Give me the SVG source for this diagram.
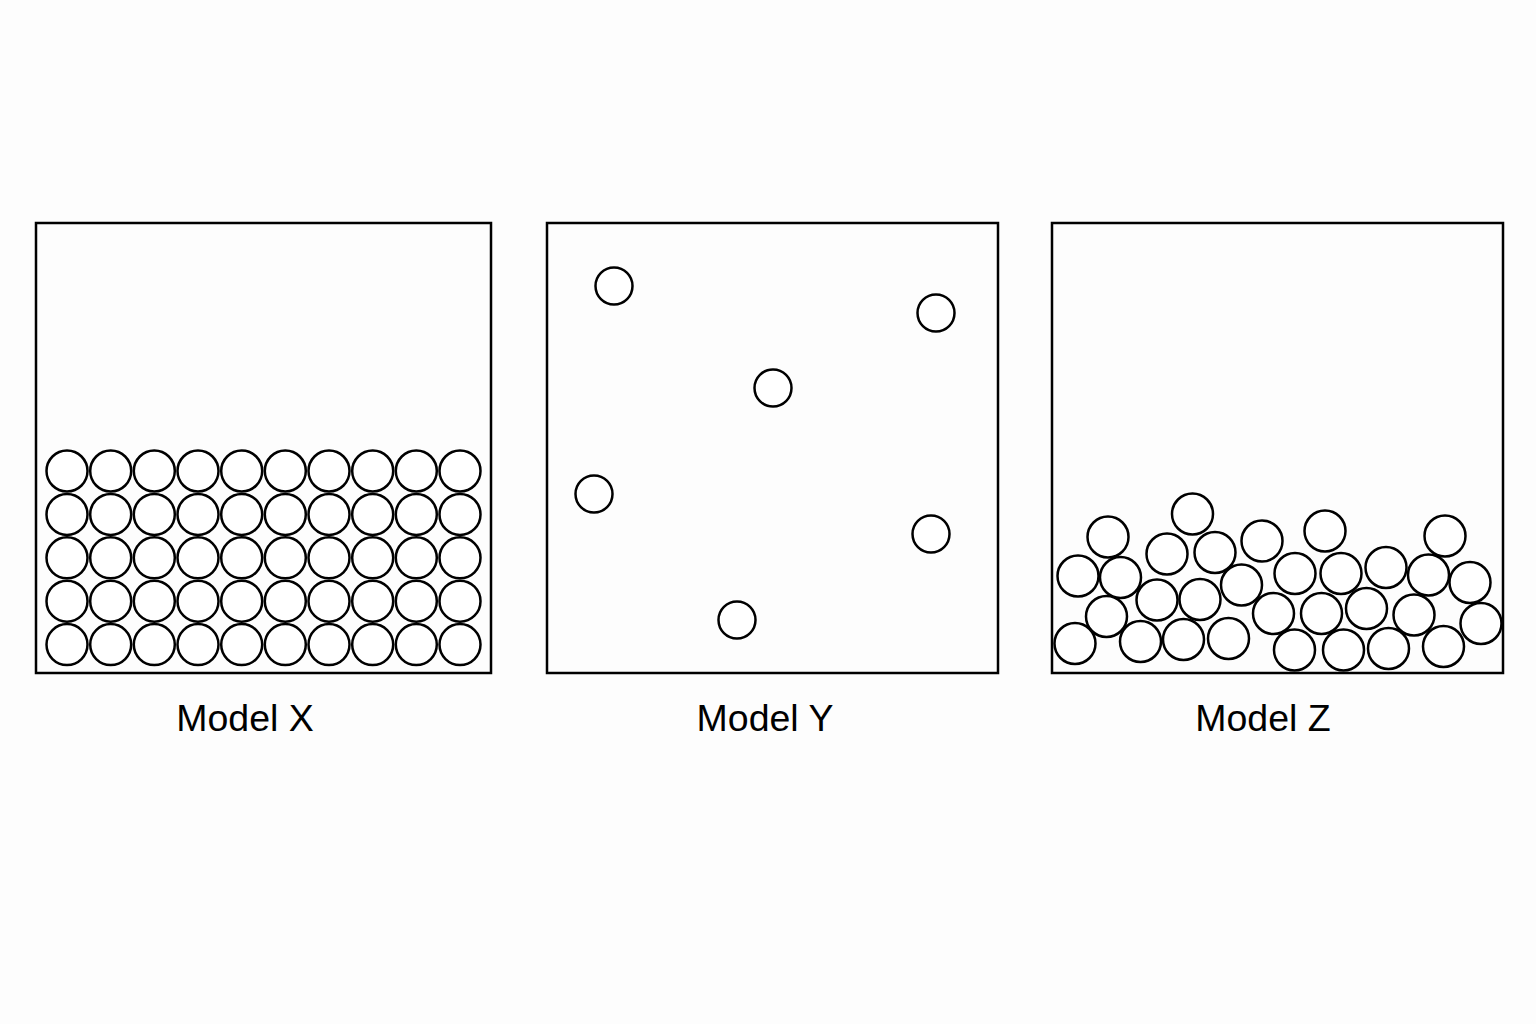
<svg xmlns="http://www.w3.org/2000/svg" width="1536" height="1024" viewBox="0 0 1536 1024">
<style>
.box{fill:none;stroke:#000;stroke-width:2.5}
.p{fill:#fff;stroke:#000;stroke-width:2.5}
.lbl{font-family:"Liberation Sans",Arial,sans-serif;font-size:37.5px;fill:#000;text-anchor:middle}
</style>
<defs>
<circle id="bx" r="20.5" class="p"/>
<circle id="bz" r="20.5" class="p"/>
</defs>
<rect width="1536" height="1024" fill="#fdfdfd"/>
<g id="modelX">
<rect class="box" x="36" y="223" width="455" height="450"/>
<g id="x-particles">
<use href="#bx" x="67" y="471"/><use href="#bx" x="110.7" y="471"/><use href="#bx" x="154.3" y="471"/><use href="#bx" x="198" y="471"/><use href="#bx" x="241.7" y="471"/><use href="#bx" x="285.3" y="471"/><use href="#bx" x="329" y="471"/><use href="#bx" x="372.7" y="471"/><use href="#bx" x="416.3" y="471"/><use href="#bx" x="460" y="471"/>
<use href="#bx" x="67" y="514.4"/><use href="#bx" x="110.7" y="514.4"/><use href="#bx" x="154.3" y="514.4"/><use href="#bx" x="198" y="514.4"/><use href="#bx" x="241.7" y="514.4"/><use href="#bx" x="285.3" y="514.4"/><use href="#bx" x="329" y="514.4"/><use href="#bx" x="372.7" y="514.4"/><use href="#bx" x="416.3" y="514.4"/><use href="#bx" x="460" y="514.4"/>
<use href="#bx" x="67" y="557.8"/><use href="#bx" x="110.7" y="557.8"/><use href="#bx" x="154.3" y="557.8"/><use href="#bx" x="198" y="557.8"/><use href="#bx" x="241.7" y="557.8"/><use href="#bx" x="285.3" y="557.8"/><use href="#bx" x="329" y="557.8"/><use href="#bx" x="372.7" y="557.8"/><use href="#bx" x="416.3" y="557.8"/><use href="#bx" x="460" y="557.8"/>
<use href="#bx" x="67" y="601.2"/><use href="#bx" x="110.7" y="601.2"/><use href="#bx" x="154.3" y="601.2"/><use href="#bx" x="198" y="601.2"/><use href="#bx" x="241.7" y="601.2"/><use href="#bx" x="285.3" y="601.2"/><use href="#bx" x="329" y="601.2"/><use href="#bx" x="372.7" y="601.2"/><use href="#bx" x="416.3" y="601.2"/><use href="#bx" x="460" y="601.2"/>
<use href="#bx" x="67" y="644.6"/><use href="#bx" x="110.7" y="644.6"/><use href="#bx" x="154.3" y="644.6"/><use href="#bx" x="198" y="644.6"/><use href="#bx" x="241.7" y="644.6"/><use href="#bx" x="285.3" y="644.6"/><use href="#bx" x="329" y="644.6"/><use href="#bx" x="372.7" y="644.6"/><use href="#bx" x="416.3" y="644.6"/><use href="#bx" x="460" y="644.6"/>
</g>
<text class="lbl" x="245" y="731">Model X</text>
</g>
<g id="modelY">
<rect class="box" x="547" y="223" width="451" height="450"/>
<g id="y-particles">
<circle class="p" cx="614" cy="286" r="18.5"/>
<circle class="p" cx="936" cy="313" r="18.5"/>
<circle class="p" cx="773" cy="388" r="18.5"/>
<circle class="p" cx="594" cy="494" r="18.5"/>
<circle class="p" cx="931" cy="534" r="18.5"/>
<circle class="p" cx="737" cy="620" r="18.5"/>
</g>
<text class="lbl" x="765" y="731">Model Y</text>
</g>
<g id="modelZ">
<rect class="box" x="1052" y="223" width="451" height="450"/>
<g id="z-particles">
<use href="#bz" x="1108" y="537"/><use href="#bz" x="1192.5" y="514"/><use href="#bz" x="1078" y="576"/><use href="#bz" x="1120.5" y="577.5"/><use href="#bz" x="1167" y="554"/><use href="#bz" x="1215" y="552.5"/><use href="#bz" x="1262" y="541"/><use href="#bz" x="1325" y="531"/><use href="#bz" x="1445" y="536"/>
<use href="#bz" x="1106.5" y="616.5"/><use href="#bz" x="1157" y="600"/><use href="#bz" x="1200" y="599.5"/><use href="#bz" x="1241.5" y="585"/><use href="#bz" x="1295" y="573.5"/><use href="#bz" x="1341" y="573.5"/><use href="#bz" x="1386" y="567.5"/><use href="#bz" x="1428.5" y="575"/><use href="#bz" x="1470" y="582.5"/>
<use href="#bz" x="1075" y="643.5"/><use href="#bz" x="1140.5" y="641.5"/><use href="#bz" x="1183.5" y="639.5"/><use href="#bz" x="1228.5" y="638.5"/><use href="#bz" x="1273.5" y="613.5"/><use href="#bz" x="1321.5" y="613.5"/><use href="#bz" x="1366.5" y="608.5"/><use href="#bz" x="1414" y="615"/><use href="#bz" x="1481" y="623.5"/>
<use href="#bz" x="1294.5" y="650"/><use href="#bz" x="1343.5" y="650"/><use href="#bz" x="1388.5" y="648.5"/><use href="#bz" x="1443.5" y="646.5"/>
</g>
<text class="lbl" x="1263" y="731">Model Z</text>
</g>
</svg>
